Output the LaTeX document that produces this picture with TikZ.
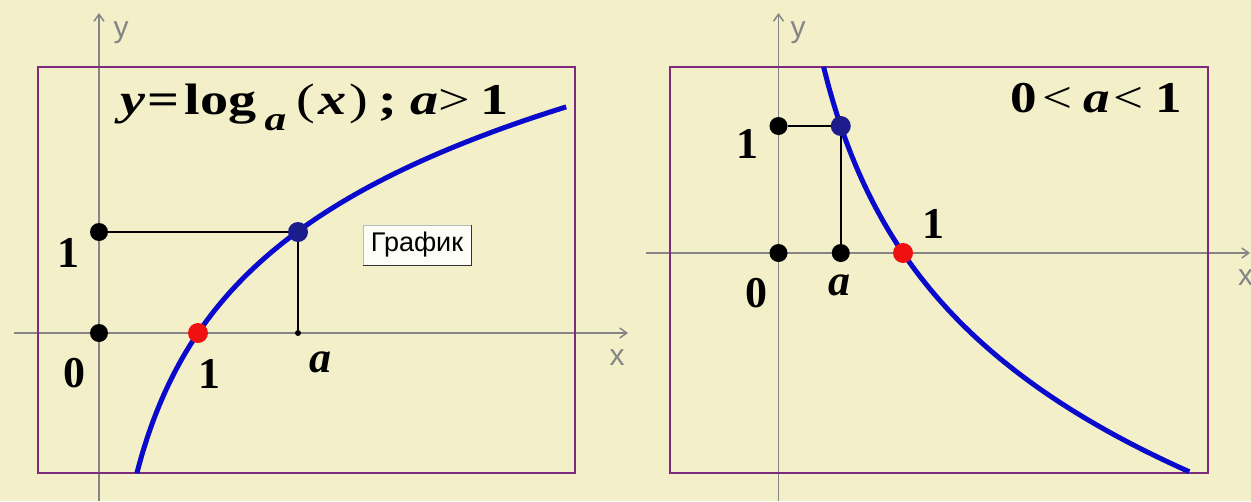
\documentclass[tikz,border=0pt]{standalone}
\usepackage{fontspec}
\setmainfont{Liberation Serif}
\newfontfamily\uisans{Liberation Sans}
\usetikzlibrary{arrows.meta,positioning}
\definecolor{bgpaper}{HTML}{F3EFC9}
\definecolor{frameline}{HTML}{7D2B7D}
\definecolor{curveblue}{HTML}{0A0ACC}
\definecolor{ptblue}{HTML}{1C1C8C}
\definecolor{ptred}{HTML}{F01010}
\definecolor{axisgray}{HTML}{858585}
\tikzset{
  axisline/.style={axisgray,line width=1.5pt,-{Straight Barb[length=7pt,width=10pt]}},
  plotframe/.style={frameline,line width=2.5pt},
  logcurve/.style={curveblue,line width=5pt},
  dot/.style={circle,fill=black,inner sep=0pt,minimum size=18pt},
  bigdot/.style={circle,inner sep=0pt,minimum size=20pt},
  guide/.style={black,line width=1.8pt},
  lbl/.style={font=\fontsize{44}{44}\selectfont\bfseries,inner sep=0pt,anchor=base},
  axlbl/.style={font=\uisans\fontsize{30}{30}\selectfont,axisgray,inner sep=0pt,anchor=base},
}

\begin{document}
\begin{tikzpicture}[x=1pt,y=-1pt]
  \fill[bgpaper] (0,0) rectangle (1251,501);
  \useasboundingbox (0,0) rectangle (1251,501);
  % left: a>1
  \coordinate (lxs) at (14,333);  \coordinate (lxe) at (628,333);
  \coordinate (lys) at (99,501);  \coordinate (lye) at (99,13);
  \draw[axisline] (lxs)--(lxe);
  \draw[axisline] (lys)--(lye);
  \draw[plotframe] (38,67) rectangle (575,473);
  \node[dot] (lone) at (99,232) {};
  \node[dot] (lzero) at (99,333) {};
  \node[circle,fill=black,inner sep=0pt,minimum size=6pt] (lfoot) at (298,333) {};
  \node[bigdot] (lpa) at (298,232) {};
  \draw[guide] (lone)--(lpa.center)--(lfoot);
  \draw[logcurve] plot[domain=0.382:4.72,samples=80,smooth] ({99+99*\x},{333-101*ln(\x)/ln(2)});
  \node[bigdot,fill=ptblue] at (lpa) {};
  \node[bigdot,fill=ptred] (lpone) at (198,333) {};
  \node[lbl] (ly1) at (68,267) {1};
  \node[lbl] (ly0) at (74,387) {0};
  \node[lbl] (lx1) at (209,388) {1};
  \node[lbl] (lxa) at (320,372) {\textit{a}};
  \node[lbl,anchor=base west] (ltitle) at (120,114)
    {\resizebox{388pt}{\height}{\textit{y}\hspace{2pt}=\hspace{4pt}log\hspace{6pt}\raisebox{-16pt}{\fontsize{34}{34}\selectfont\textit{a}}\hspace{8pt}{\mdseries(}\hspace{3pt}\textit{x}\hspace{2pt}{\mdseries)}\hspace{8pt};\hspace{10pt}\textit{a}{\mdseries>}\hspace{8pt}1}};
  \node[axlbl] (lylab) at (121,37) {y};
  \node[axlbl] (lxlab) at (617,365) {x};
  \node[draw=gray!55,fill=white!85!bgpaper,minimum width=108pt,minimum height=40pt,inner sep=0pt,
        font=\uisans\fontsize{27}{27}\selectfont] (btn) at (417,245) {График};
  \draw[gray!40!black,line width=1.2pt] (btn.north east)--(btn.south east)--(btn.south west);
  % right: 0<a<1
  \coordinate (rxs) at (646,253);  \coordinate (rxe) at (1250,253);
  \coordinate (rys) at (778.5,501); \coordinate (rye) at (778.5,13);
  \draw[axisline] (rxs)--(rxe);
  \draw[axisline] (rys)--(rye);
  \draw[plotframe] (670,67) rectangle (1208,473);
  \node[dot] (rone) at (778.5,126) {};
  \node[dot] (rzero) at (778.5,253) {};
  \node[dot] (rfoot) at (840.75,253) {};
  \node[bigdot] (rpa) at (840.75,126) {};
  \draw[guide] (rone)--(rpa.center)--(rfoot);
  \draw[logcurve] plot[domain=0.362:3.3,samples=80,smooth] ({778.5+124.5*\x},{253+127*ln(\x)/ln(2)});
  \node[bigdot,fill=ptblue] at (rpa) {};
  \node[bigdot,fill=ptred] (rpone) at (903,253) {};
  \node[lbl] (ry1) at (747,158) {1};
  \node[lbl] (ry0) at (756,307) {0};
  \node[lbl] (rxa) at (839,295) {\textit{a}};
  \node[lbl] (rx1) at (933,238) {1};
  \node[lbl,anchor=base west] (rtitle) at (1010,112)
    {\resizebox{172pt}{\height}{0\hspace{5pt}{\mdseries<}\hspace{9pt}\textit{a}\hspace{3pt}{\mdseries<}\hspace{10pt}1}};
  \node[axlbl] (rylab) at (798,37) {y};
  \node[axlbl,anchor=base west] (rxlab) at (1238,285) {x};
\end{tikzpicture}
\end{document}
